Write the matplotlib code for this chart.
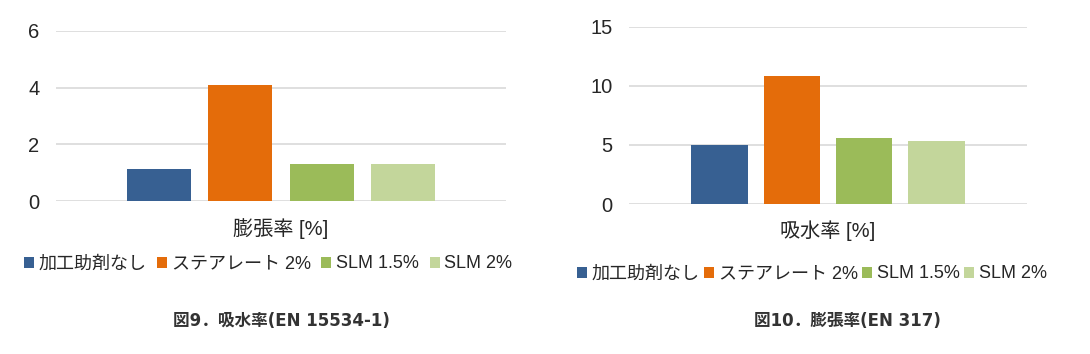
import matplotlib
matplotlib.use("Agg")
import matplotlib.pyplot as plt
from matplotlib.patches import Rectangle

plt.rcParams['font.family'] = ['Liberation Sans', 'Noto Sans CJK JP']

series = ["加工助剤なし", "ステアレート 2%", "SLM 1.5%", "SLM 2%"]
colors = ["#376092", "#E46C0A", "#9BBB59", "#C3D69B"]

absorb_vals = [1.12, 4.1, 1.32, 1.32]     # left chart
swell_vals = [4.98, 10.8, 5.58, 5.33]     # right chart

left_cat = "膨張率 [%]"
right_cat = "吸水率 [%]"
left_caption = "図9．吸水率(EN 15534-1)"
right_caption = "図10．膨張率(EN 317)"

fig = plt.figure(figsize=(10.9, 3.54), dpi=100)


def bar_panel(rect, vals, ymax, step, cat):
    ax = fig.add_axes(rect)
    for i, v in enumerate(vals):
        ax.bar((i - 1.5) * 0.181, v, width=0.143, color=colors[i], zorder=3)
    ax.set_xlim(-0.5, 0.5)
    ax.set_ylim(0, ymax)
    ax.set_yticks(range(0, ymax + 1, step))
    ax.set_xticks([0])
    ax.set_xticklabels([cat], fontsize=14)
    ax.yaxis.grid(True, color="#D9D9D9", linewidth=1.2, zorder=0)
    for s in ax.spines.values():
        s.set_visible(False)
    ax.tick_params(axis="both", length=0, labelsize=14.5, colors="#262626")
    ax.tick_params(axis="y", pad=12)
    ax.tick_params(axis="x", pad=12)
    return ax


ax1 = bar_panel([56/1090, 1 - 201/354, 450/1090, 170/354], absorb_vals, 6, 2, left_cat)
ax2 = bar_panel([629/1090, 1 - 204/354, 398/1090, 177.3/354], swell_vals, 15, 5, right_cat)

handles = [Rectangle((0, 0), 1, 1, fc=c) for c in colors]
fig.legend(handles, series, loc="center", bbox_to_anchor=(268/1090, 1 - 264/354),
           ncol=4, frameon=False, fontsize=13, handlelength=0.55, handleheight=0.55,
           handletextpad=0.25, columnspacing=0.6, labelcolor="#262626",
           borderpad=0, borderaxespad=0)
fig.legend(handles, series, loc="center", bbox_to_anchor=(812/1090, 1 - 274/354),
           ncol=4, frameon=False, fontsize=13, handlelength=0.55, handleheight=0.55,
           handletextpad=0.25, columnspacing=0.25, labelcolor="#262626",
           borderpad=0, borderaxespad=0)

fig.text(281/1090, 1 - 321/354, left_caption, ha="center", va="center",
         fontsize=12, fontweight="bold", color="#333333",
         family=['DejaVu Sans', 'Noto Sans CJK JP'])
fig.text(847/1090, 1 - 321/354, right_caption, ha="center", va="center",
         fontsize=12, fontweight="bold", color="#333333",
         family=['DejaVu Sans', 'Noto Sans CJK JP'])

fig.savefig("out.png", dpi=100, facecolor="white")
